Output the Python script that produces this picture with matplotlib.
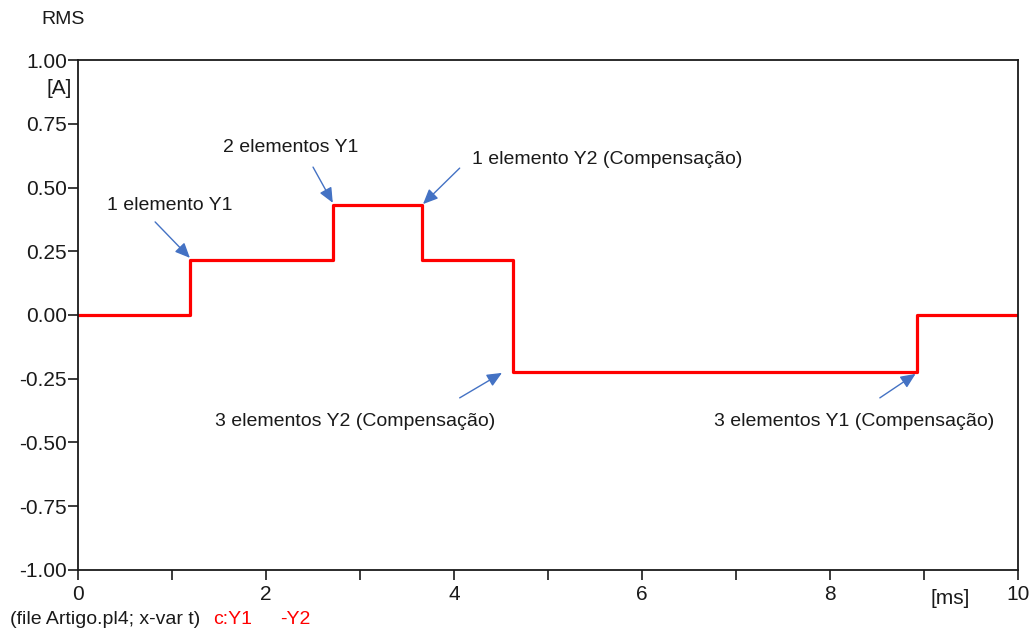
import matplotlib
matplotlib.use("Agg")
import matplotlib.pyplot as plt

plt.rcParams['font.family'] = ['Liberation Sans', 'DejaVu Sans']

# RMS current steps (time in ms, current in A)
t_ms = [0.0, 1.19, 2.71, 3.66, 4.63, 8.93, 10.0]
rms_a = [0.0, 0.215, 0.43, 0.215, -0.225, 0.0, 0.0]

xticks = [0, 2, 4, 6, 8, 10]
xminor = [1, 3, 5, 7, 9]
yticks = [-1.0, -0.75, -0.5, -0.25, 0.0, 0.25, 0.5, 0.75, 1.0]

# labels: text, text pos, text alignment, arrow tail
notes = [
    ("1 elemento Y1", (0.98, 0.43), "center", (0.82, 0.365)),
    ("2 elementos Y1", (2.26, 0.655), "center", (2.50, 0.58)),
    ("1 elemento Y2 (Compensação)", (4.19, 0.608), "left", (4.06, 0.576)),
    ("3 elementos Y2 (Compensação)", (2.95, -0.416), "center", (4.06, -0.325)),
    ("3 elementos Y1 (Compensação)", (6.77, -0.416), "left", (8.53, -0.325)),
]
heads = [(1.19, 0.224), (2.71, 0.44), (3.67, 0.435), (4.51, -0.227), (8.91, -0.231)]

fig = plt.figure(figsize=(10.35, 6.31), dpi=100)
ax = fig.add_axes([0.0754, 0.0967, 0.9082, 0.8082])

ax.plot(t_ms, rms_a, drawstyle="steps-post", color="#ff0000", lw=2.3)

ax.set_xlim(0, 10)
ax.set_ylim(-1, 1)
ax.set_xticks(xticks)
ax.set_xticks(xminor, minor=True)
ax.set_yticks(yticks)
ax.set_yticklabels([f"{v:.2f}" for v in yticks])
ax.tick_params(axis="both", which="both", direction="out", length=7, width=1.2,
               labelsize=15, colors="#1a1a1a")
ax.tick_params(axis="x", pad=4)
ax.tick_params(axis="y", pad=1)
for s in ax.spines.values():
    s.set_linewidth(1.3)
    s.set_color("#1a1a1a")

for (txt, pos, ha, tail), head in zip(notes, heads):
    ax.annotate("", xy=head, xytext=tail,
                arrowprops=dict(arrowstyle="-|>,head_length=0.9,head_width=0.4",
                                color="#4472c4", lw=1.0, shrinkA=0, shrinkB=0))
    ax.text(pos[0], pos[1], txt, ha=ha, va="center", fontsize=14, color="#1a1a1a")

fig.text(63 / 1035, 1 - 20 / 631, "RMS", ha="center", va="center", fontsize=14, color="#1a1a1a")
fig.text(72 / 1035, 1 - 89 / 631, "[A]", ha="right", va="center", fontsize=15, color="#1a1a1a")
fig.text(950 / 1035, 1 - 598 / 631, "[ms]", ha="center", va="center", fontsize=15, color="#1a1a1a")

fig.text(10 / 1035, 1 - 620 / 631, "(file Artigo.pl4; x-var t)", ha="left", va="center",
         fontsize=14, color="#1a1a1a")
fig.text(213 / 1035, 1 - 620 / 631, "c:Y1", ha="left", va="center", fontsize=14, color="#ff0000")
fig.text(280 / 1035, 1 - 620 / 631, "-Y2", ha="left", va="center", fontsize=14, color="#ff0000")

fig.savefig("out.png", dpi=100)
